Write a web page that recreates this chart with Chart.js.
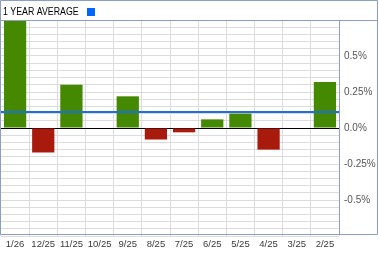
<!DOCTYPE html>
<html lang="en">
<head>
    <meta charset="UTF-8">
    <title>1 Year Average</title>
    <script src="https://cdn.jsdelivr.net/npm/chart.js"></script>
    <style>
        body { margin: 0; background: #fff; }
        canvas { display: block; }
    </style>
</head>
<body>
    <canvas id="avgChart" width="379" height="255"></canvas>

    <script>
        // monthly change, newest first
        const months = ['1/26', '12/25', '11/25', '10/25', '9/25', '8/25', '7/25', '6/25', '5/25', '4/25', '3/25', '2/25'];
        const changes = [0.78, -0.17, 0.30, null, 0.22, -0.08, -0.03, 0.06, 0.10, -0.15, null, 0.32];
        const yearAverage = 0.11;
        const yLabels = { '50': '0.5%', '25': '0.25%', '0': '0.0%', '-25': '-0.25%', '-50': '-0.5%' };

        const frameColor = '#8d9fbd';

        // header, outer frame and the average line
        const framePlugin = {
            id: 'frame',
            beforeDraw(chart) {
                const c = chart.ctx;
                c.save();
                c.fillStyle = '#fff';
                c.fillRect(0, 0, chart.width, chart.height);
                c.restore();
            },
            afterDatasetsDraw(chart) {
                const c = chart.ctx;
                const area = chart.chartArea;
                const y = Math.round(chart.scales.y.getPixelForValue(yearAverage));
                c.save();
                c.fillStyle = '#1f6fd8';
                c.fillRect(area.left - 1, y - 1, area.right - area.left + 1, 2);
                c.restore();
            },
            afterDraw(chart) {
                const c = chart.ctx;
                const area = chart.chartArea;
                c.save();
                c.strokeStyle = frameColor;
                c.lineWidth = 1;
                c.beginPath();
                c.rect(0.5, 0.5, 377, 234);
                c.moveTo(0, 20.5); c.lineTo(378, 20.5);
                c.moveTo(area.right + 0.5, 20); c.lineTo(area.right + 0.5, 235);
                c.stroke();

                c.fillStyle = '#0066ff';
                c.fillRect(87, 8, 8, 8);

                // the title font in the original is narrow
                c.fillStyle = '#000';
                c.font = '10px "Liberation Sans", Arial, sans-serif';
                c.textBaseline = 'alphabetic';
                c.translate(3, 14.5);
                c.scale(0.88, 1);
                c.fillText('1 YEAR AVERAGE', 0, 0);
                c.restore();
            }
        };

        const ctx = document.getElementById('avgChart').getContext('2d');

        new Chart(ctx, {
            type: 'bar',
            data: {
                labels: months,
                datasets: [{
                    data: changes,
                    backgroundColor: changes.map(v => v < 0 ? '#a81a0c' : '#458900'),
                    barPercentage: 0.79,
                    categoryPercentage: 1.0
                }]
            },
            options: {
                responsive: false,
                animation: false,
                devicePixelRatio: 1,
                layout: { padding: { top: 20, left: 1, right: 0, bottom: 0 } },
                plugins: {
                    legend: { display: false },
                    tooltip: { enabled: false }
                },
                scales: {
                    x: {
                        grid: { color: '#dcdcdc', drawTicks: false, offset: true },
                        border: { display: false },
                        ticks: {
                            autoSkip: false,
                            maxRotation: 0,
                            padding: 3,
                            color: '#3a3a3a',
                            font: { family: '"Liberation Sans", Arial, sans-serif', size: 9.5 }
                        },
                        afterFit(scale) { scale.height = 19; }
                    },
                    y: {
                        position: 'right',
                        min: -0.75,
                        max: 0.75,
                        grid: {
                            drawTicks: false,
                            color: c => Math.round(c.tick.value * 100) === 0 ? '#000' : '#dcdcdc'
                        },
                        border: { display: false },
                        ticks: {
                            stepSize: 0.05,
                            autoSkip: false,
                            padding: 5,
                            color: '#555',
                            font: { family: '"Liberation Sans", Arial, sans-serif', size: 10 },
                            callback: v => yLabels[String(Math.round(v * 100))] || ''
                        },
                        afterFit(scale) { scale.width = 40; }
                    }
                }
            },
            plugins: [framePlugin]
        });
    </script>
</body>
</html>
